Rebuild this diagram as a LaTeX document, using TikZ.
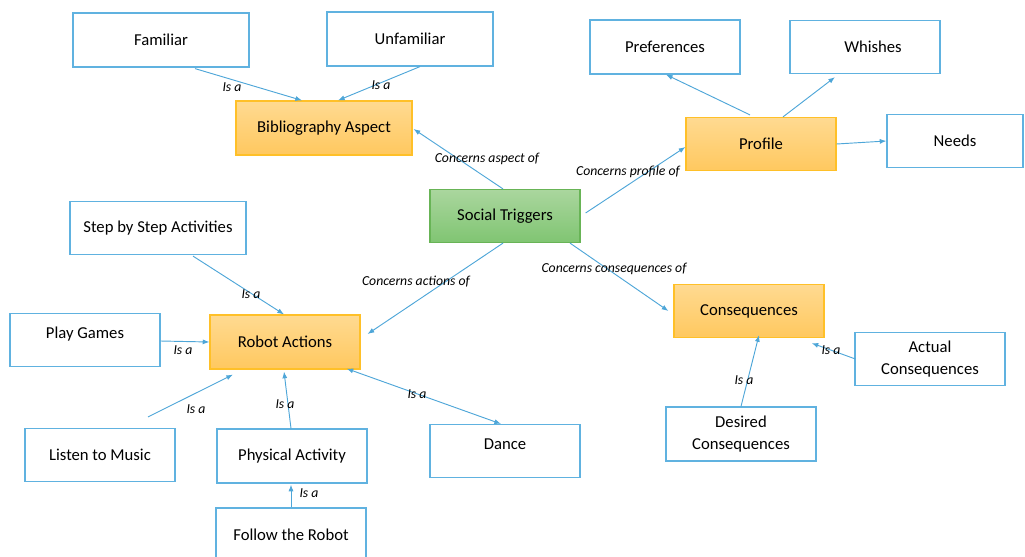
\documentclass[tikz,border=0pt]{standalone}
\usepackage{fontspec}
\setmainfont{Carlito}
\usetikzlibrary{positioning, calc, arrows.meta}

\definecolor{linkblue}{RGB}{78,166,216}
\definecolor{boxblue}{RGB}{96,178,224}
\definecolor{orangetop}{RGB}{255,218,145}
\definecolor{orangebot}{RGB}{255,200,95}
\definecolor{orangeedge}{RGB}{255,192,40}
\definecolor{greentop}{RGB}{170,214,158}
\definecolor{greenbot}{RGB}{128,197,114}
\definecolor{greenedge}{RGB}{104,180,86}

\tikzset{
	concept/.style={draw=boxblue, line width=0.9pt, fill=white, minimum width=112.5pt, minimum height=39.75pt, inner sep=2pt, align=center, font=\fontsize{12.5}{17}\selectfont},
	aspect/.style={concept, draw=orangeedge, top color=orangetop, bottom color=orangebot},
	trigger/.style={concept, draw=greenedge, top color=greentop, bottom color=greenbot},
	link/.style={draw=linkblue, line width=0.7pt, -{Latex[length=5pt,width=3.8pt]}},
	rel/.style={inner sep=1pt, font=\fontsize{10.3}{11}\selectfont\itshape}
}

\begin{document}
\begin{tikzpicture}[x=0.75pt, y=-0.75pt]
	\useasboundingbox (0,0) rectangle (1025,557);
	\clip (0,0) rectangle (1025,557);

	% Define concepts
	\node[trigger] (triggers) at (505,216) {Social Triggers};
	\node[aspect, minimum width=132pt, minimum height=40.5pt] (biblio) at (324,128) {Bibliography Aspect};
	\node[aspect] (profile) at (761,144) {Profile};
	\node[aspect, minimum height=40.5pt] (actions) at (285,342) {Robot Actions};
	\node[aspect] (conseq) at (749,311) {Consequences};

	\node[concept, minimum width=132pt, minimum height=40.5pt] (fam) at (161,40) {Familiar};
	\node[concept, minimum width=124.5pt, minimum height=40.5pt] (unfam) at (410,39) {Unfamiliar};
	\node[concept, minimum height=40.5pt] (prefs) at (665,47) {Preferences};
	\node[concept] (wishes) at (865,47) {\hspace{12pt}Whishes};
	\node[concept, minimum width=102pt] (needs) at (955,141) {Needs};

	\node[concept, minimum width=132pt] (steps) at (158,228) {Step by Step Activities};
	\node[concept] (games) at (85,340) {Play Games\\[-6pt]\mbox{}};
	\node[concept] (music) at (100,455) {Listen to Music};
	\node[concept, minimum height=40.5pt] (physical) at (292,456) {Physical Activity};
	\node[concept] (dance) at (505,451) {Dance\\[-6pt]\mbox{}};
	\node[concept] (follow) at (291,534.5) {Follow the Robot};

	\node[concept] (actual) at (930,359) {Actual\\Consequences};
	\node[concept, minimum height=40.5pt] (desired) at (741,434) {Desired\\Consequences};

	% Draw relations
	\draw[link] ($(fam.south)+(34,1)$) -- ($(biblio.north)+(-22,0)$);
	\draw[link] ($(unfam.south)+(10,0)$) -- ($(biblio.north)+(14,0)$);
	\draw[link] ($(triggers.north)+(-2,0)$) -- ($(biblio.east)+(1,1)$);
	\draw[link] ($(triggers.east)+(5,-3)$) -- ($(profile.west)+(0,3)$);
	\draw[link] ($(profile.north)+(-11,-2)$) -- ($(prefs.south)+(1,0)$);
	\draw[link] ($(profile.north)+(22,0)$) -- ($(wishes.south)+(-30,3)$);
	\draw[link] (profile.east) -- (needs.west);
	\draw[link] ($(triggers.south)+(65,0)$) -- ($(conseq.west)+(-5,0)$);
	\draw[link] ($(triggers.south)+(-2,0)$) -- ($(actions.east)+(7,-8)$);
	\draw[link] ($(steps.south)+(35,1)$) -- ($(actions.north)+(-1,0)$);
	\draw[link] ($(games.east)+(0,1)$) -- (actions.west);
	\draw[link] ($(music.north)+(48,-11)$) -- ($(actions.south)+(-52,5)$);
	\draw[link] ($(physical.north)+(-1,0)$) -- ($(actions.south)+(-1,2)$);
	\draw[link, {Latex[length=5pt,width=3.8pt]}-{Latex[length=5pt,width=3.8pt]}] ($(actions.south east)+(-14,-1)$) -- ($(dance.north)+(-4,0)$);
	\draw[link] (follow.north) -- ($(physical.south)+(-1,1)$);
	\draw[link] (desired.north) -- ($(conseq.south)+(10,-3)$);
	\draw[link] ($(actual.west)+(1,0)$) -- ($(conseq.south east)+(-13,5)$);

	% Relation labels
	\node[rel] (l1) at (232,87) {Is a};
	\node[rel] (l2) at (381,85) {Is a};
	\node[rel] (l3) at (487,159) {Concerns aspect of};
	\node[rel] (l4) at (628,172) {Concerns profile of};
	\node[rel] (l5) at (614,269) {Concerns consequences of};
	\node[rel] (l6) at (416,282) {Concerns actions of};
	\node[rel] (l7) at (251,294) {Is a};
	\node[rel] (l8) at (183,350) {Is a};
	\node[rel] (l9) at (196,409) {Is a};
	\node[rel] (l10) at (285,404) {Is a};
	\node[rel] (l11) at (417,394) {Is a};
	\node[rel] (l12) at (309,493) {Is a};
	\node[rel] (l13) at (744,380) {Is a};
	\node[rel] (l14) at (831,350) {Is a};
\end{tikzpicture}
\end{document}
